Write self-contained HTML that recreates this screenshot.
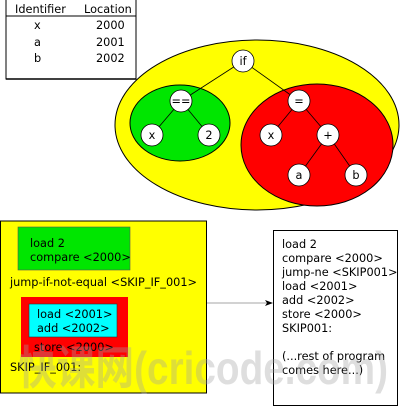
<!DOCTYPE html>
<html><head><meta charset="utf-8"><style>
html,body{margin:0;padding:0;background:#fff;}
svg{display:block;}
text{font-family:"DejaVu Sans","Liberation Sans",sans-serif;font-size:11.3px;fill:#000;}
</style></head><body>
<svg width="400" height="406" viewBox="0 0 400 406" xmlns="http://www.w3.org/2000/svg">
<rect x="6" y="-1" width="130" height="80" fill="#fff" stroke="#000" stroke-width="1"/>
<line x1="6" y1="16" x2="136" y2="16" stroke="#000"/>
<line x1="6" y1="79" x2="136" y2="79" stroke="#000" stroke-width="1.5"/>
<text x="15" y="13">Identifier</text>
<text x="84" y="13">Location</text>
<text x="34" y="29">x</text><text x="96" y="29">2000</text>
<text x="34" y="46">a</text><text x="96" y="46">2001</text>
<text x="34" y="62">b</text><text x="96" y="62">2002</text>
<ellipse cx="257" cy="125" rx="142" ry="85" fill="#ffff00" stroke="#000"/>
<ellipse cx="180" cy="123" rx="50" ry="38" fill="#00e600" stroke="#000"/>
<ellipse cx="317" cy="145" rx="76" ry="61" fill="#ff0000" stroke="#000"/>
<g stroke="#000" stroke-width="0.8">
<line x1="243" y1="61" x2="181" y2="101"/>
<line x1="243" y1="61" x2="299" y2="101"/>
<line x1="181" y1="101" x2="152" y2="135"/>
<line x1="181" y1="101" x2="209" y2="135"/>
<line x1="299" y1="101" x2="271" y2="135"/>
<line x1="299" y1="101" x2="328" y2="135"/>
<line x1="328" y1="135" x2="299" y2="175"/>
<line x1="328" y1="135" x2="356" y2="175"/>
</g>
<g fill="#fff" stroke="#000" stroke-width="0.8">
<circle cx="243" cy="61" r="11"/><circle cx="181" cy="101" r="11"/>
<circle cx="299" cy="101" r="11"/><circle cx="152" cy="135" r="11"/>
<circle cx="209" cy="135" r="11"/><circle cx="271" cy="135" r="11"/>
<circle cx="328" cy="135" r="11"/><circle cx="299" cy="175" r="11"/>
<circle cx="356" cy="175" r="11"/>
</g>
<g text-anchor="middle">
<text x="243" y="65">if</text><text x="181" y="105">==</text>
<text x="299" y="105">=</text><text x="152" y="139">x</text>
<text x="209" y="139">2</text><text x="271" y="139">x</text>
<text x="328" y="139">+</text><text x="299" y="179">a</text>
<text x="356" y="179">b</text>
</g>
<rect x="0.5" y="221" width="206" height="172" fill="#ffff00" stroke="#000"/>
<rect x="18" y="227" width="112" height="43" fill="#00e600" stroke="#555" stroke-width="0.6"/>
<text x="30" y="247">load 2</text>
<text x="30" y="261">compare &lt;2000&gt;</text>
<text x="10" y="286">jump-if-not-equal &lt;SKIP_IF_001&gt;</text>
<rect x="21" y="297" width="107" height="60" fill="#ff0000"/>
<rect x="29" y="304" width="88" height="33" fill="#00ffff" stroke="#333" stroke-width="0.6"/>
<text x="37" y="318">load &lt;2001&gt;</text>
<text x="37" y="332">add &lt;2002&gt;</text>
<text x="34" y="351">store &lt;2000&gt;</text>
<text x="10" y="371">SKIP_IF_001:</text>
<line x1="207" y1="303" x2="267" y2="303" stroke="#888" stroke-width="0.8"/>
<polygon points="273,303 265,300 267,303 265,306" fill="#000"/>
<rect x="273.5" y="230.5" width="124" height="175" fill="#fff" stroke="#000"/>
<text x="282" y="248">load 2</text>
<text x="282" y="262">compare &lt;2000&gt;</text>
<text x="282" y="276">jump-ne &lt;SKIP001&gt;</text>
<text x="282" y="290">load &lt;2001&gt;</text>
<text x="282" y="304">add &lt;2002&gt;</text>
<text x="282" y="318">store &lt;2000&gt;</text>
<text x="282" y="332">SKIP001:</text>
<text x="282" y="360">(...rest of program</text>
<text x="282" y="374">comes here...)</text>
<text x="18" y="384" textLength="370" lengthAdjust="spacingAndGlyphs" style="font-family:'Liberation Sans','Noto Sans CJK SC',sans-serif;font-size:46px;font-weight:bold;fill:#a0a0a0;fill-opacity:0.35">快课网(cricode.com)</text>
</svg>
</body></html>
